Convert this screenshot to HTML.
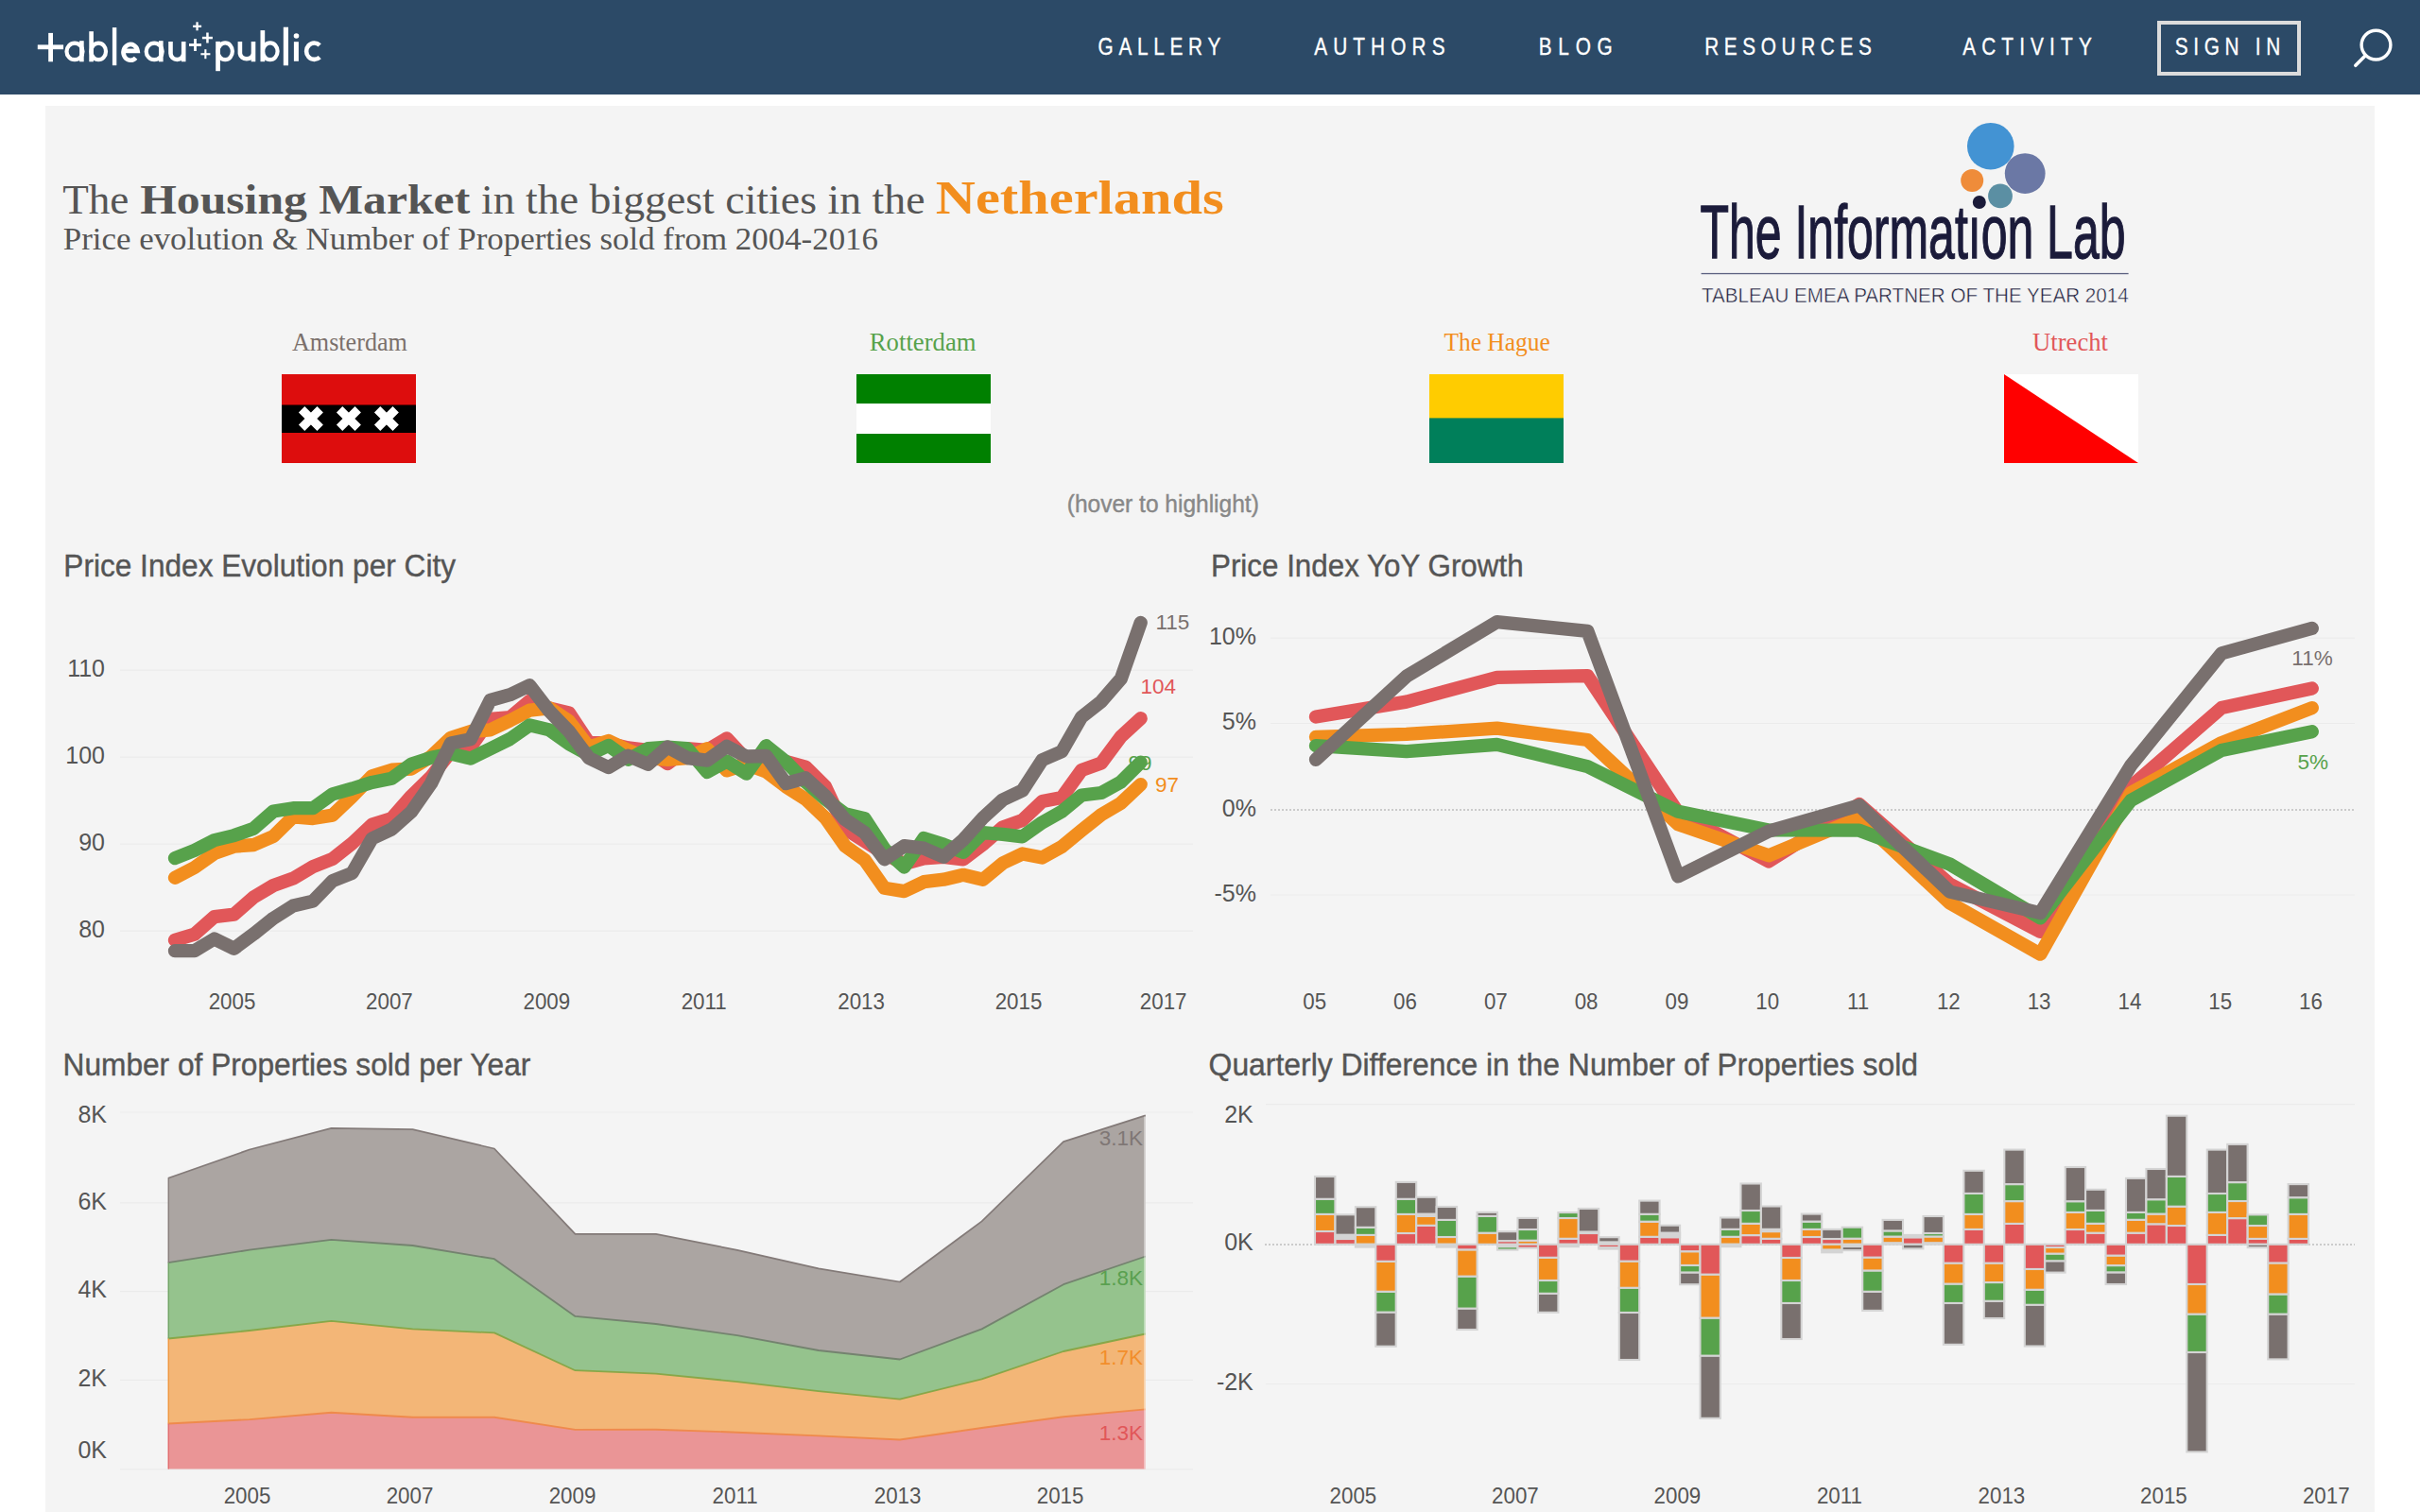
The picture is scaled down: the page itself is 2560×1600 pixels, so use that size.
<!DOCTYPE html>
<html><head><meta charset="utf-8"><title>Housing Market NL</title>
<style>
html,body{margin:0;padding:0;}
body{width:2560px;height:1600px;overflow:hidden;position:relative;background:#ffffff;font-family:"Liberation Sans",sans-serif;}
#nav{position:absolute;left:0;top:0;width:2560px;height:100px;background:#2c4a67;}
#panel{position:absolute;left:48px;top:112px;width:2464px;height:1488px;background:#f4f4f4;}
svg{position:absolute;left:0;top:0;}
</style></head><body>
<div id="nav"></div>
<div id="panel"></div>
<svg width="2560" height="1600" viewBox="0 0 2560 1600">
<g fill="#fff"><rect x="39.8" y="47.4" width="27.3" height="4.8"/><rect x="51.2" y="34.9" width="4.8" height="30.4"/><ellipse cx="79" cy="54.4" rx="8.5" ry="8.8" fill="none" stroke="#fff" stroke-width="4.2"/><rect x="84.1" y="43.2" width="4.6" height="22.1"/><rect x="94.3" y="33.2" width="4.6" height="32.1"/><ellipse cx="104.2" cy="54.4" rx="7.8" ry="8.8" fill="none" stroke="#fff" stroke-width="4.2"/><rect x="118.9" y="29.1" width="4.4" height="40.1"/><path d="M130.4,53.9 H145.6 A7.6,8.4 0 1 0 143.6,61.2" fill="none" stroke="#fff" stroke-width="4.6"/><ellipse cx="163.2" cy="54.4" rx="8.5" ry="8.8" fill="none" stroke="#fff" stroke-width="4.2"/><rect x="168" y="43.2" width="4.6" height="22.1"/><path d="M180.5,43.9 V56.6 A6.85,6.4 0 0 0 194.2,56.6 M194.2,43.9 V65.3" fill="none" stroke="#fff" stroke-width="4.6"/><rect x="204.1" y="26.7" width="9" height="2.3"/><rect x="207.4" y="23.3" width="2.3" height="9"/><rect x="200" y="46.1" width="13" height="2.8"/><rect x="205.1" y="41" width="2.8" height="13"/><rect x="213.9" y="38.8" width="11" height="2.5"/><rect x="218.2" y="34.5" width="2.5" height="11"/><rect x="212.4" y="56.2" width="10" height="2.1"/><rect x="216.3" y="52.2" width="2.1" height="10"/><rect x="228.2" y="43.9" width="4.7" height="31.3"/><ellipse cx="238.2" cy="54.3" rx="7.7" ry="8.9" fill="none" stroke="#fff" stroke-width="4.2"/><path d="M253.9,43.9 V56.6 A7.1,6.4 0 0 0 268.0,56.6 M268.0,43.9 V65.2" fill="none" stroke="#fff" stroke-width="4.6"/><rect x="275.5" y="32.1" width="4.7" height="33.1"/><ellipse cx="285.8" cy="54.3" rx="7.8" ry="8.9" fill="none" stroke="#fff" stroke-width="4.2"/><rect x="299.8" y="28.7" width="5.2" height="40.6"/><rect x="310.9" y="44.2" width="5.0" height="20.6"/><circle cx="313.5" cy="38" r="2.8"/><path d="M338.2,47.8 A8.4,8.7 0 1 0 338.2,60.6" fill="none" stroke="#fff" stroke-width="4.6"/></g>
<text transform="translate(1161.6,58.1) scale(0.8,1)" x="0" y="0" font-family="Liberation Sans" font-size="26" fill="#fff" stroke="#fff" stroke-width="0.35" textLength="162.1" lengthAdjust="spacing">GALLERY</text>
<text transform="translate(1390.2,58.1) scale(0.8,1)" x="0" y="0" font-family="Liberation Sans" font-size="26" fill="#fff" stroke="#fff" stroke-width="0.35" textLength="172.9" lengthAdjust="spacing">AUTHORS</text>
<text transform="translate(1627.7,58.1) scale(0.8,1)" x="0" y="0" font-family="Liberation Sans" font-size="26" fill="#fff" stroke="#fff" stroke-width="0.35" textLength="97.6" lengthAdjust="spacing">BLOG</text>
<text transform="translate(1803.2,58.1) scale(0.8,1)" x="0" y="0" font-family="Liberation Sans" font-size="26" fill="#fff" stroke="#fff" stroke-width="0.35" textLength="220.7" lengthAdjust="spacing">RESOURCES</text>
<text transform="translate(2076.2,58.1) scale(0.8,1)" x="0" y="0" font-family="Liberation Sans" font-size="26" fill="#fff" stroke="#fff" stroke-width="0.35" textLength="170.7" lengthAdjust="spacing">ACTIVITY</text>
<text transform="translate(2300.7,58.1) scale(0.8,1)" x="0" y="0" font-family="Liberation Sans" font-size="26" fill="#fff" stroke="#fff" stroke-width="0.35" textLength="139.5" lengthAdjust="spacing">SIGN IN</text>
<rect x="2284" y="24" width="148" height="54" fill="none" stroke="#dcdcdc" stroke-width="4"/>
<circle cx="2513.5" cy="47.6" r="15.4" fill="none" stroke="#fff" stroke-width="3.4"/>
<line x1="2491.8" y1="69.3" x2="2502.3" y2="58.8" stroke="#fff" stroke-width="3.6" stroke-linecap="round"/>
<text x="66.2" y="225.8" font-family="Liberation Serif" font-size="45" fill="#555555" text-anchor="start" font-weight="normal" textLength="70.2" lengthAdjust="spacingAndGlyphs">The</text>
<text x="148.2" y="225.8" font-family="Liberation Serif" font-size="45" fill="#555555" text-anchor="start" font-weight="bold" textLength="349" lengthAdjust="spacingAndGlyphs">Housing Market</text>
<text x="509" y="225.8" font-family="Liberation Serif" font-size="45" fill="#555555" text-anchor="start" font-weight="normal" textLength="469.5" lengthAdjust="spacingAndGlyphs">in the biggest cities in the</text>
<text x="989.8" y="225.9" font-family="Liberation Serif" font-size="51" fill="#f28e1e" text-anchor="start" font-weight="bold" textLength="304.9" lengthAdjust="spacingAndGlyphs">Netherlands</text>
<text x="66.8" y="264" font-family="Liberation Serif" font-size="34" fill="#555555" text-anchor="start" font-weight="normal" textLength="862.2" lengthAdjust="spacingAndGlyphs">Price evolution &amp; Number of Properties sold from 2004-2016</text>
<circle cx="2105.8" cy="154.7" r="24.8" fill="#4393d3"/>
<circle cx="2142.2" cy="183.6" r="21.4" fill="#6b78a5"/>
<circle cx="2086.2" cy="190.9" r="12" fill="#ef8c3a"/>
<circle cx="2116" cy="207.4" r="12.9" fill="#5b8fa3"/>
<circle cx="2093.8" cy="214" r="7" fill="#1b1b3a"/>
<text x="1798.5" y="273" font-family="Liberation Sans" font-size="80" fill="#1b1b3a" text-anchor="start" font-weight="normal" textLength="450" lengthAdjust="spacingAndGlyphs" stroke="#1b1b3a" stroke-width="1.3">The Informat<tspan fill-opacity="1">ı</tspan>on Lab</text>
<rect x="1799.6" y="288.9" width="452" height="1.3" fill="#5b6080"/>
<text x="1800" y="320" font-family="Liberation Sans" font-size="22.3" fill="#1d1d3c" text-anchor="start" font-weight="normal" textLength="451.7" lengthAdjust="spacingAndGlyphs" stroke="#f4f4f4" stroke-width="0.45">TABLEAU EMEA PARTNER OF THE YEAR 2014</text>
<text x="309" y="371" font-family="Liberation Serif" font-size="27" fill="#7b706b" text-anchor="start" font-weight="normal" textLength="121.9" lengthAdjust="spacingAndGlyphs">Amsterdam</text>
<text x="919.8" y="371" font-family="Liberation Serif" font-size="27" fill="#57a24b" text-anchor="start" font-weight="normal" textLength="112.8" lengthAdjust="spacingAndGlyphs">Rotterdam</text>
<text x="1527.4" y="371" font-family="Liberation Serif" font-size="27" fill="#f28e1e" text-anchor="start" font-weight="normal" textLength="112.4" lengthAdjust="spacingAndGlyphs">The Hague</text>
<text x="2150" y="371" font-family="Liberation Serif" font-size="27" fill="#e15759" text-anchor="start" font-weight="normal" textLength="80" lengthAdjust="spacingAndGlyphs">Utrecht</text>
<defs><filter id="fb" x="-10%" y="-10%" width="120%" height="120%"><feGaussianBlur stdDeviation="0.75"/></filter><clipPath id="c1"><rect x="298" y="396" width="142" height="94"/></clipPath><clipPath id="c2"><rect x="906" y="396" width="142" height="94"/></clipPath><clipPath id="c3"><rect x="1512" y="396" width="142" height="94"/></clipPath><clipPath id="c4"><rect x="2120" y="396" width="142" height="94"/></clipPath></defs>
<g clip-path="url(#c1)"><g filter="url(#fb)"><rect x="290" y="388" width="158" height="110" fill="#dd0c07"/><rect x="290" y="428.5" width="158" height="29.5" fill="#000"/><g transform="translate(328.9,443)"><path d="M-9.8,-9.8 L9.8,9.8 M9.8,-9.8 L-9.8,9.8" stroke="#fff" stroke-width="9"/></g><g transform="translate(368.9,443)"><path d="M-9.8,-9.8 L9.8,9.8 M9.8,-9.8 L-9.8,9.8" stroke="#fff" stroke-width="9"/></g><g transform="translate(408.9,443)"><path d="M-9.8,-9.8 L9.8,9.8 M9.8,-9.8 L-9.8,9.8" stroke="#fff" stroke-width="9"/></g></g></g>
<g clip-path="url(#c2)"><g filter="url(#fb)"><rect x="898" y="388" width="158" height="110" fill="#008000"/><rect x="898" y="427" width="158" height="32" fill="#fff"/></g></g>
<g clip-path="url(#c3)"><g filter="url(#fb)"><rect x="1504" y="388" width="158" height="110" fill="#007f5a"/><rect x="1504" y="388" width="158" height="54.4" fill="#ffcc00"/></g></g>
<g clip-path="url(#c4)"><g filter="url(#fb)"><rect x="2112" y="388" width="158" height="110" fill="#ffffff"/><path d="M2120,396 L2262,490 L2270,500 L2110,500 L2110,389.4 Z" fill="#ff0000"/></g></g>
<text x="1128.8" y="542.1" font-family="Liberation Sans" font-size="25" fill="#888888" text-anchor="start" font-weight="normal" textLength="203" lengthAdjust="spacingAndGlyphs" stroke="#888888" stroke-width="0.4">(hover to highlight)</text>
<text x="67.3" y="609.7" font-family="Liberation Sans" font-size="33" fill="#555555" text-anchor="start" font-weight="normal" textLength="414.7" lengthAdjust="spacingAndGlyphs" stroke="#555555" stroke-width="0.4">Price Index Evolution per City</text>
<text x="1281" y="610.3" font-family="Liberation Sans" font-size="33" fill="#555555" text-anchor="start" font-weight="normal" textLength="330.6" lengthAdjust="spacingAndGlyphs" stroke="#555555" stroke-width="0.4">Price Index YoY Growth</text>
<text x="66.5" y="1138.2" font-family="Liberation Sans" font-size="33" fill="#555555" text-anchor="start" font-weight="normal" textLength="494.8" lengthAdjust="spacingAndGlyphs" stroke="#555555" stroke-width="0.4">Number of Properties sold per Year</text>
<text x="1278.6" y="1138.2" font-family="Liberation Sans" font-size="33" fill="#555555" text-anchor="start" font-weight="normal" textLength="750.5" lengthAdjust="spacingAndGlyphs" stroke="#555555" stroke-width="0.4">Quarterly Difference in the Number of Properties sold</text>
<line x1="127" y1="709.2" x2="1262" y2="709.2" stroke="#ebebeb" stroke-width="1.2"/>
<text x="111" y="715.7" font-family="Liberation Sans" font-size="25" fill="#555555" text-anchor="end" font-weight="normal">110</text>
<line x1="127" y1="801.2" x2="1262" y2="801.2" stroke="#ebebeb" stroke-width="1.2"/>
<text x="111" y="807.7" font-family="Liberation Sans" font-size="25" fill="#555555" text-anchor="end" font-weight="normal">100</text>
<line x1="127" y1="893.2" x2="1262" y2="893.2" stroke="#ebebeb" stroke-width="1.2"/>
<text x="111" y="899.7" font-family="Liberation Sans" font-size="25" fill="#555555" text-anchor="end" font-weight="normal">90</text>
<line x1="127" y1="985.2" x2="1262" y2="985.2" stroke="#ebebeb" stroke-width="1.2"/>
<text x="111" y="991.7" font-family="Liberation Sans" font-size="25" fill="#555555" text-anchor="end" font-weight="normal">80</text>
<text transform="translate(245.5,1068) scale(0.955,1)" x="0" y="0" font-family="Liberation Sans" font-size="23.4" fill="#555555" text-anchor="middle">2005</text>
<text transform="translate(411.9,1068) scale(0.955,1)" x="0" y="0" font-family="Liberation Sans" font-size="23.4" fill="#555555" text-anchor="middle">2007</text>
<text transform="translate(578.3,1068) scale(0.955,1)" x="0" y="0" font-family="Liberation Sans" font-size="23.4" fill="#555555" text-anchor="middle">2009</text>
<text transform="translate(744.7,1068) scale(0.955,1)" x="0" y="0" font-family="Liberation Sans" font-size="23.4" fill="#555555" text-anchor="middle">2011</text>
<text transform="translate(911.1,1068) scale(0.955,1)" x="0" y="0" font-family="Liberation Sans" font-size="23.4" fill="#555555" text-anchor="middle">2013</text>
<text transform="translate(1077.5,1068) scale(0.955,1)" x="0" y="0" font-family="Liberation Sans" font-size="23.4" fill="#555555" text-anchor="middle">2015</text>
<text transform="translate(1255.5,1068) scale(0.955,1)" x="0" y="0" font-family="Liberation Sans" font-size="23.4" fill="#555555" text-anchor="end">2017</text>
<polyline points="185,994.9 205.8,988.6 226.7,970.1 247.6,967.6 268.4,949.4 289.2,937 310.1,929.6 331,917.2 351.8,908.9 372.6,892.4 393.5,872.6 414.4,866 435.2,842.3 456.1,822 476.9,795.5 497.8,790.6 518.6,760.8 539.5,759.2 560.3,741.8 581.2,749.5 602,754.5 622.9,786 643.7,786.5 664.5,791.4 685.4,793.9 706.2,808 727.1,792.2 748,793.9 768.8,781.5 789.7,803.8 810.5,802 831.4,806 852.2,811.7 873.1,832.4 893.9,877 914.8,890.2 935.6,903.5 956.5,914.2 977.3,908.4 998.2,906.8 1019,909.3 1039.8,893.6 1060.7,875.4 1081.6,867.9 1102.4,848.1 1123.2,844 1144.1,815 1165,807.6 1185.8,779.5 1206.7,760.2" fill="none" stroke="#e15759" stroke-width="14.3" stroke-linejoin="round" stroke-linecap="round"/>
<polyline points="185,928.8 205.8,918 226.7,903.1 247.6,895.7 268.4,894 289.2,885 310.1,864.3 331,866 351.8,862.6 372.6,842.8 393.5,821.3 414.4,814.7 435.2,813.5 456.1,800.5 476.9,780.7 497.8,774 518.6,772.4 539.5,762.5 560.3,751.7 581.2,749.3 602,763.3 622.9,790.6 643.7,784 664.5,793.9 685.4,802.1 706.2,803.8 727.1,802.1 748,792.2 768.8,815.4 789.7,808.8 810.5,816.5 831.4,832.4 852.2,845.6 873.1,865.5 893.9,895.2 914.8,910.1 935.6,939.8 956.5,943.1 977.3,933.2 998.2,930.7 1019,925.8 1039.8,930.7 1060.7,913.4 1081.6,903.5 1102.4,907.6 1123.2,896 1144.1,878.7 1165,862.1 1185.8,849.8 1206.7,830.1" fill="none" stroke="#f28e1e" stroke-width="14.3" stroke-linejoin="round" stroke-linecap="round"/>
<text x="1222" y="837.7" font-family="Liberation Sans" font-size="22.5" fill="#f28e1e" text-anchor="start" font-weight="normal">97</text>
<text x="1193.5" y="814.5" font-family="Liberation Sans" font-size="22.5" fill="#57a24b" text-anchor="start" font-weight="normal">99</text>
<polyline points="185,908.1 205.8,899.8 226.7,889.1 247.6,884.1 268.4,876.7 289.2,858.5 310.1,855.2 331,855.2 351.8,840.3 372.6,834.5 393.5,827.9 414.4,823.8 435.2,808.5 456.1,801.8 476.9,797.5 497.8,802.6 518.6,792.3 539.5,782 560.3,767.4 581.2,772.4 602,787.3 622.9,798.8 643.7,788.9 664.5,803.8 685.4,792.2 706.2,790.6 727.1,792.2 748,817 768.8,805.5 789.7,818.7 810.5,789.2 831.4,806 852.2,827.4 873.1,845.6 893.9,861.3 914.8,866.3 935.6,898.5 956.5,917.5 977.3,887 998.2,893.6 1019,901.8 1039.8,881.2 1060.7,882.8 1081.6,885.3 1102.4,870.4 1123.2,858.8 1144.1,841.5 1165,839 1185.8,827.4 1206.7,806.7" fill="none" stroke="#57a24b" stroke-width="14.3" stroke-linejoin="round" stroke-linecap="round"/>
<polyline points="185,1006.2 205.8,1006.2 226.7,993.5 247.6,1003.7 268.4,988.3 289.2,971.7 310.1,958.5 331,953.6 351.8,932.1 372.6,923.8 393.5,887.4 414.4,877.5 435.2,859 456.1,829 476.9,786.4 497.8,782.3 518.6,741 539.5,735.2 560.3,725.3 581.2,752.6 602,774 622.9,802.1 643.7,812.1 664.5,799.7 685.4,808.8 706.2,790.6 727.1,802.1 748,804.6 768.8,789.8 789.7,800.5 810.5,800 831.4,829 852.2,823.3 873.1,842.3 893.9,867.1 914.8,881.2 935.6,909.3 956.5,895.2 977.3,897.7 998.2,906.8 1019,888.6 1039.8,865.5 1060.7,846.4 1081.6,836.5 1102.4,804.3 1123.2,795.2 1144.1,758.8 1165,742.3 1185.8,718.3 1206.7,658.9" fill="none" stroke="#79706e" stroke-width="14.3" stroke-linejoin="round" stroke-linecap="round"/>
<text x="1222.5" y="665.9" font-family="Liberation Sans" font-size="22.5" fill="#79706e" text-anchor="start" font-weight="normal">115</text>
<text x="1206.5" y="733.7" font-family="Liberation Sans" font-size="22.5" fill="#e15759" text-anchor="start" font-weight="normal">104</text>
<line x1="1344" y1="675.2" x2="2491" y2="675.2" stroke="#ebebeb" stroke-width="1.2"/>
<line x1="1344" y1="765.5" x2="2491" y2="765.5" stroke="#ebebeb" stroke-width="1.2"/>
<line x1="1344" y1="947" x2="2491" y2="947" stroke="#ebebeb" stroke-width="1.2"/>
<text x="1329" y="681.7" font-family="Liberation Sans" font-size="25" fill="#555555" text-anchor="end" font-weight="normal">10%</text>
<text x="1329" y="772" font-family="Liberation Sans" font-size="25" fill="#555555" text-anchor="end" font-weight="normal">5%</text>
<text x="1329" y="863.5" font-family="Liberation Sans" font-size="25" fill="#555555" text-anchor="end" font-weight="normal">0%</text>
<text x="1329" y="953.5" font-family="Liberation Sans" font-size="25" fill="#555555" text-anchor="end" font-weight="normal">-5%</text>
<line x1="1344" y1="857" x2="2491" y2="857" stroke="#bdbdbd" stroke-width="1.7" stroke-dasharray="2,2"/>
<text transform="translate(1390.7,1067.8) scale(0.955,1)" x="0" y="0" font-family="Liberation Sans" font-size="23.4" fill="#555555" text-anchor="middle">05</text>
<text transform="translate(1486.5,1067.8) scale(0.955,1)" x="0" y="0" font-family="Liberation Sans" font-size="23.4" fill="#555555" text-anchor="middle">06</text>
<text transform="translate(1582.3,1067.8) scale(0.955,1)" x="0" y="0" font-family="Liberation Sans" font-size="23.4" fill="#555555" text-anchor="middle">07</text>
<text transform="translate(1678.1,1067.8) scale(0.955,1)" x="0" y="0" font-family="Liberation Sans" font-size="23.4" fill="#555555" text-anchor="middle">08</text>
<text transform="translate(1773.9,1067.8) scale(0.955,1)" x="0" y="0" font-family="Liberation Sans" font-size="23.4" fill="#555555" text-anchor="middle">09</text>
<text transform="translate(1869.7,1067.8) scale(0.955,1)" x="0" y="0" font-family="Liberation Sans" font-size="23.4" fill="#555555" text-anchor="middle">10</text>
<text transform="translate(1965.5,1067.8) scale(0.955,1)" x="0" y="0" font-family="Liberation Sans" font-size="23.4" fill="#555555" text-anchor="middle">11</text>
<text transform="translate(2061.3,1067.8) scale(0.955,1)" x="0" y="0" font-family="Liberation Sans" font-size="23.4" fill="#555555" text-anchor="middle">12</text>
<text transform="translate(2157.1,1067.8) scale(0.955,1)" x="0" y="0" font-family="Liberation Sans" font-size="23.4" fill="#555555" text-anchor="middle">13</text>
<text transform="translate(2252.9,1067.8) scale(0.955,1)" x="0" y="0" font-family="Liberation Sans" font-size="23.4" fill="#555555" text-anchor="middle">14</text>
<text transform="translate(2348.7,1067.8) scale(0.955,1)" x="0" y="0" font-family="Liberation Sans" font-size="23.4" fill="#555555" text-anchor="middle">15</text>
<text transform="translate(2444.5,1067.8) scale(0.955,1)" x="0" y="0" font-family="Liberation Sans" font-size="23.4" fill="#555555" text-anchor="middle">16</text>
<polyline points="1392,758.5 1487.8,742.6 1583.6,716.9 1679.4,715.2 1775.2,860 1871,911.5 1966.8,851 2062.6,935.6 2158.4,985.9 2254.2,832.4 2350,749.1 2445.8,728.4" fill="none" stroke="#e15759" stroke-width="14.3" stroke-linejoin="round" stroke-linecap="round"/>
<polyline points="1392,779.8 1487.8,776.9 1583.6,770.7 1679.4,783 1775.2,872.3 1871,905.3 1966.8,865.5 2062.6,955.5 2158.4,1009.7 2254.2,839 2350,786.1 2445.8,749.1" fill="none" stroke="#f28e1e" stroke-width="14.3" stroke-linejoin="round" stroke-linecap="round"/>
<polyline points="1392,789.1 1487.8,795.2 1583.6,787.9 1679.4,811.1 1775.2,858.8 1871,878.4 1966.8,878.7 2062.6,914.5 2158.4,971.4 2254.2,847 2350,794.1 2445.8,774.2" fill="none" stroke="#57a24b" stroke-width="14.3" stroke-linejoin="round" stroke-linecap="round"/>
<polyline points="1392,803.8 1487.8,715.7 1583.6,658.1 1679.4,667.9 1775.2,927.4 1871,879.7 1966.8,852.3 2062.6,943.6 2158.4,966.1 2254.2,810 2350,691.4 2445.8,664.9" fill="none" stroke="#79706e" stroke-width="14.3" stroke-linejoin="round" stroke-linecap="round"/>
<text x="2424.3" y="703.9" font-family="Liberation Sans" font-size="22.5" fill="#79706e" text-anchor="start" font-weight="normal">11%</text>
<text x="2430.6" y="814.1" font-family="Liberation Sans" font-size="22.5" fill="#57a24b" text-anchor="start" font-weight="normal">5%</text>
<line x1="127" y1="1177" x2="1262" y2="1177" stroke="#ebebeb" stroke-width="1.2"/>
<line x1="127" y1="1272.8" x2="1262" y2="1272.8" stroke="#ebebeb" stroke-width="1.2"/>
<line x1="127" y1="1366.6" x2="1262" y2="1366.6" stroke="#ebebeb" stroke-width="1.2"/>
<line x1="127" y1="1460.3" x2="1262" y2="1460.3" stroke="#ebebeb" stroke-width="1.2"/>
<line x1="127" y1="1554.8" x2="1262" y2="1554.8" stroke="#ebebeb" stroke-width="1.2"/>
<text x="113" y="1187.9" font-family="Liberation Sans" font-size="25" fill="#555555" text-anchor="end" font-weight="normal">8K</text>
<text x="113" y="1279.6" font-family="Liberation Sans" font-size="25" fill="#555555" text-anchor="end" font-weight="normal">6K</text>
<text x="113" y="1373.4" font-family="Liberation Sans" font-size="25" fill="#555555" text-anchor="end" font-weight="normal">4K</text>
<text x="113" y="1467.1" font-family="Liberation Sans" font-size="25" fill="#555555" text-anchor="end" font-weight="normal">2K</text>
<text x="113" y="1543.4" font-family="Liberation Sans" font-size="25" fill="#555555" text-anchor="end" font-weight="normal">0K</text>
<text transform="translate(261.5,1591) scale(0.955,1)" x="0" y="0" font-family="Liberation Sans" font-size="23.4" fill="#555555" text-anchor="middle">2005</text>
<text transform="translate(433.5,1591) scale(0.955,1)" x="0" y="0" font-family="Liberation Sans" font-size="23.4" fill="#555555" text-anchor="middle">2007</text>
<text transform="translate(605.5,1591) scale(0.955,1)" x="0" y="0" font-family="Liberation Sans" font-size="23.4" fill="#555555" text-anchor="middle">2009</text>
<text transform="translate(777.6,1591) scale(0.955,1)" x="0" y="0" font-family="Liberation Sans" font-size="23.4" fill="#555555" text-anchor="middle">2011</text>
<text transform="translate(949.6,1591) scale(0.955,1)" x="0" y="0" font-family="Liberation Sans" font-size="23.4" fill="#555555" text-anchor="middle">2013</text>
<text transform="translate(1121.6,1591) scale(0.955,1)" x="0" y="0" font-family="Liberation Sans" font-size="23.4" fill="#555555" text-anchor="middle">2015</text>
<polygon points="177.8,1506.5 263.9,1502.1 350.5,1494.7 436.5,1499.8 522.9,1499.8 608.5,1512.9 693.9,1512.7 779.9,1515.7 865.9,1519.4 951.9,1523.5 1038.6,1511 1125,1499.2 1211.8,1491.4 1211.8,1554.5 1125,1554.5 1038.6,1554.5 951.9,1554.5 865.9,1554.5 779.9,1554.5 693.9,1554.5 608.5,1554.5 522.9,1554.5 436.5,1554.5 350.5,1554.5 263.9,1554.5 177.8,1554.5" fill="#ea9596"/>
<polygon points="177.8,1416.5 263.9,1408 350.5,1397.9 436.5,1406.4 522.9,1410.4 608.5,1450.2 693.9,1453.6 779.9,1462.1 865.9,1472.2 951.9,1480.6 1038.6,1459.4 1125,1430 1211.8,1411.5 1211.8,1491.4 1125,1499.2 1038.6,1511 951.9,1523.5 865.9,1519.4 779.9,1515.7 693.9,1512.7 608.5,1512.9 522.9,1499.8 436.5,1499.8 350.5,1494.7 263.9,1502.1 177.8,1506.5" fill="#f3b677"/>
<polygon points="177.8,1336.2 263.9,1322.7 350.5,1311.9 436.5,1318 522.9,1332.2 608.5,1392.9 693.9,1401 779.9,1413.2 865.9,1429 951.9,1438.5 1038.6,1406.4 1125,1359.2 1211.8,1329.5 1211.8,1411.5 1125,1430 1038.6,1459.4 951.9,1480.6 865.9,1472.2 779.9,1462.1 693.9,1453.6 608.5,1450.2 522.9,1410.4 436.5,1406.4 350.5,1397.9 263.9,1408 177.8,1416.5" fill="#95c38d"/>
<polygon points="177.8,1246.8 263.9,1216.5 350.5,1193.9 436.5,1195.2 522.9,1215.5 608.5,1305.9 693.9,1305.9 779.9,1322.8 865.9,1342.3 951.9,1356.5 1038.6,1292.4 1125,1208.1 1211.8,1180.4 1211.8,1329.5 1125,1359.2 1038.6,1406.4 951.9,1438.5 865.9,1429 779.9,1413.2 693.9,1401 608.5,1392.9 522.9,1332.2 436.5,1318 350.5,1311.9 263.9,1322.7 177.8,1336.2" fill="#aba5a2"/>
<polyline points="177.8,1506.5 263.9,1502.1 350.5,1494.7 436.5,1499.8 522.9,1499.8 608.5,1512.9 693.9,1512.7 779.9,1515.7 865.9,1519.4 951.9,1523.5 1038.6,1511 1125,1499.2 1211.8,1491.4" fill="none" stroke="#ef8a4c" stroke-width="1.9" stroke-linejoin="round"/>
<polyline points="177.8,1416.5 263.9,1408 350.5,1397.9 436.5,1406.4 522.9,1410.4 608.5,1450.2 693.9,1453.6 779.9,1462.1 865.9,1472.2 951.9,1480.6 1038.6,1459.4 1125,1430 1211.8,1411.5" fill="none" stroke="#88a748" stroke-width="1.8" stroke-linejoin="round"/>
<polyline points="177.8,1336.2 263.9,1322.7 350.5,1311.9 436.5,1318 522.9,1332.2 608.5,1392.9 693.9,1401 779.9,1413.2 865.9,1429 951.9,1438.5 1038.6,1406.4 1125,1359.2 1211.8,1329.5" fill="none" stroke="#74836f" stroke-width="1.8" stroke-linejoin="round"/>
<polyline points="177.8,1246.8 263.9,1216.5 350.5,1193.9 436.5,1195.2 522.9,1215.5 608.5,1305.9 693.9,1305.9 779.9,1322.8 865.9,1342.3 951.9,1356.5 1038.6,1292.4 1125,1208.1 1211.8,1180.4" fill="none" stroke="#837a78" stroke-width="1.7" stroke-linejoin="round"/>
<line x1="178.3" y1="1246.8" x2="178.3" y2="1336.2" stroke="#857c7a" stroke-width="1.3"/>
<line x1="178.3" y1="1336.2" x2="178.3" y2="1416.5" stroke="#6fa364" stroke-width="1.3"/>
<line x1="178.3" y1="1416.5" x2="178.3" y2="1506.5" stroke="#f0963c" stroke-width="1.3"/>
<line x1="178.3" y1="1506.5" x2="178.3" y2="1554.5" stroke="#e26a6c" stroke-width="1.3"/>
<line x1="1211" y1="1181.4" x2="1211" y2="1554.5" stroke="#ffffff" stroke-opacity="0.5" stroke-width="1.6"/>
<text x="1209" y="1212.1" font-family="Liberation Sans" font-size="22.5" fill="#7f7775" text-anchor="end" font-weight="normal">3.1K</text>
<text x="1209" y="1359.9" font-family="Liberation Sans" font-size="22.5" fill="#5aa050" text-anchor="end" font-weight="normal">1.8K</text>
<text x="1209" y="1443.5" font-family="Liberation Sans" font-size="22.5" fill="#f28e2b" text-anchor="end" font-weight="normal">1.7K</text>
<text x="1209" y="1523.5" font-family="Liberation Sans" font-size="22.5" fill="#e15759" text-anchor="end" font-weight="normal">1.3K</text>
<line x1="1339" y1="1168.6" x2="2491" y2="1168.6" stroke="#ebebeb" stroke-width="1.2"/>
<line x1="1339" y1="1464.5" x2="2491" y2="1464.5" stroke="#ebebeb" stroke-width="1.2"/>
<line x1="1338" y1="1317" x2="2491" y2="1317" stroke="#bdbdbd" stroke-width="1.7" stroke-dasharray="2,2"/>
<text x="1325.8" y="1187.9" font-family="Liberation Sans" font-size="25" fill="#555555" text-anchor="end" font-weight="normal">2K</text>
<text x="1325.8" y="1322.9" font-family="Liberation Sans" font-size="25" fill="#555555" text-anchor="end" font-weight="normal">0K</text>
<text x="1325.8" y="1471.3" font-family="Liberation Sans" font-size="25" fill="#555555" text-anchor="end" font-weight="normal">-2K</text>
<text transform="translate(1431.4,1591) scale(0.955,1)" x="0" y="0" font-family="Liberation Sans" font-size="23.4" fill="#555555" text-anchor="middle">2005</text>
<text transform="translate(1602.9,1591) scale(0.955,1)" x="0" y="0" font-family="Liberation Sans" font-size="23.4" fill="#555555" text-anchor="middle">2007</text>
<text transform="translate(1774.4,1591) scale(0.955,1)" x="0" y="0" font-family="Liberation Sans" font-size="23.4" fill="#555555" text-anchor="middle">2009</text>
<text transform="translate(1945.9,1591) scale(0.955,1)" x="0" y="0" font-family="Liberation Sans" font-size="23.4" fill="#555555" text-anchor="middle">2011</text>
<text transform="translate(2117.4,1591) scale(0.955,1)" x="0" y="0" font-family="Liberation Sans" font-size="23.4" fill="#555555" text-anchor="middle">2013</text>
<text transform="translate(2288.9,1591) scale(0.955,1)" x="0" y="0" font-family="Liberation Sans" font-size="23.4" fill="#555555" text-anchor="middle">2015</text>
<text transform="translate(2485.6,1591) scale(0.955,1)" x="0" y="0" font-family="Liberation Sans" font-size="23.4" fill="#555555" text-anchor="end">2017</text>
<g stroke="#d4d4d4" stroke-width="2.1"><rect x="1391" y="1303" width="21.4" height="13.8" fill="#e15759"/><rect x="1391" y="1284.9" width="21.4" height="18.1" fill="#f28e1e"/><rect x="1391" y="1268.8" width="21.4" height="16.1" fill="#57a24b"/><rect x="1391" y="1245" width="21.4" height="23.8" fill="#79706e"/><rect x="1412.5" y="1311" width="21.4" height="5.8" fill="#e15759"/><rect x="1412.5" y="1308.8" width="21.4" height="2.2" fill="#d4d4d4"/><rect x="1412.5" y="1306.7" width="21.4" height="2.1" fill="#d4d4d4"/><rect x="1412.5" y="1285.3" width="21.4" height="21.4" fill="#79706e"/><rect x="1433.9" y="1306.9" width="21.4" height="9.9" fill="#f28e1e"/><rect x="1433.9" y="1298.8" width="21.4" height="8.1" fill="#57a24b"/><rect x="1433.9" y="1277.2" width="21.4" height="21.6" fill="#79706e"/><rect x="1433.9" y="1316.8" width="21.4" height="2.8" fill="#d4d4d4"/><rect x="1455.3" y="1316.8" width="21.4" height="18.1" fill="#e15759"/><rect x="1455.3" y="1334.9" width="21.4" height="32" fill="#f28e1e"/><rect x="1455.3" y="1366.9" width="21.4" height="21.9" fill="#57a24b"/><rect x="1455.3" y="1388.8" width="21.4" height="35.9" fill="#79706e"/><rect x="1476.8" y="1305" width="21.4" height="11.8" fill="#e15759"/><rect x="1476.8" y="1284.9" width="21.4" height="20.1" fill="#f28e1e"/><rect x="1476.8" y="1268.8" width="21.4" height="16.1" fill="#57a24b"/><rect x="1476.8" y="1250.9" width="21.4" height="17.9" fill="#79706e"/><rect x="1498.2" y="1296.8" width="21.4" height="20" fill="#e15759"/><rect x="1498.2" y="1286.9" width="21.4" height="9.9" fill="#f28e1e"/><rect x="1498.2" y="1284.6" width="21.4" height="2.3" fill="#d4d4d4"/><rect x="1498.2" y="1266.8" width="21.4" height="17.8" fill="#79706e"/><rect x="1519.7" y="1309" width="21.4" height="7.8" fill="#f28e1e"/><rect x="1519.7" y="1290.9" width="21.4" height="18.1" fill="#57a24b"/><rect x="1519.7" y="1277" width="21.4" height="13.9" fill="#79706e"/><rect x="1519.7" y="1316.8" width="21.4" height="2.8" fill="#d4d4d4"/><rect x="1541.2" y="1316.8" width="21.4" height="5.8" fill="#e15759"/><rect x="1541.2" y="1322.6" width="21.4" height="28.2" fill="#f28e1e"/><rect x="1541.2" y="1350.8" width="21.4" height="34" fill="#57a24b"/><rect x="1541.2" y="1384.8" width="21.4" height="22.2" fill="#79706e"/><rect x="1562.6" y="1304.7" width="21.4" height="12.1" fill="#f28e1e"/><rect x="1562.6" y="1286.9" width="21.4" height="17.8" fill="#57a24b"/><rect x="1562.6" y="1282.9" width="21.4" height="4" fill="#79706e"/><rect x="1584" y="1313.1" width="21.4" height="3.7" fill="#e15759"/><rect x="1584" y="1303.2" width="21.4" height="9.9" fill="#79706e"/><rect x="1584" y="1316.8" width="21.4" height="2.5" fill="#d4d4d4"/><rect x="1584" y="1319.3" width="21.4" height="3.3" fill="#57a24b"/><rect x="1605.5" y="1312.7" width="21.4" height="4.1" fill="#f28e1e"/><rect x="1605.5" y="1301" width="21.4" height="11.7" fill="#57a24b"/><rect x="1605.5" y="1288.9" width="21.4" height="12.1" fill="#79706e"/><rect x="1605.5" y="1316.8" width="21.4" height="3.8" fill="#e15759"/><rect x="1627" y="1316.8" width="21.4" height="14.1" fill="#e15759"/><rect x="1627" y="1330.9" width="21.4" height="24.1" fill="#f28e1e"/><rect x="1627" y="1355" width="21.4" height="13.9" fill="#57a24b"/><rect x="1627" y="1368.9" width="21.4" height="19.9" fill="#79706e"/><rect x="1648.4" y="1310.8" width="21.4" height="6" fill="#e15759"/><rect x="1648.4" y="1289" width="21.4" height="21.8" fill="#f28e1e"/><rect x="1648.4" y="1283.1" width="21.4" height="5.9" fill="#57a24b"/><rect x="1648.4" y="1316.8" width="21.4" height="2.4" fill="#d4d4d4"/><rect x="1669.8" y="1305" width="21.4" height="11.8" fill="#e15759"/><rect x="1669.8" y="1303.5" width="21.4" height="1.5" fill="#d4d4d4"/><rect x="1669.8" y="1279" width="21.4" height="24.5" fill="#79706e"/><rect x="1691.3" y="1314.4" width="21.4" height="2.4" fill="#d4d4d4"/><rect x="1691.3" y="1309.2" width="21.4" height="5.2" fill="#79706e"/><rect x="1691.3" y="1316.8" width="21.4" height="3.4" fill="#e15759"/><rect x="1691.3" y="1320.2" width="21.4" height="1.4" fill="#d4d4d4"/><rect x="1712.8" y="1316.8" width="21.4" height="18" fill="#e15759"/><rect x="1712.8" y="1334.8" width="21.4" height="28.1" fill="#f28e1e"/><rect x="1712.8" y="1362.9" width="21.4" height="26.1" fill="#57a24b"/><rect x="1712.8" y="1389" width="21.4" height="50" fill="#79706e"/><rect x="1734.2" y="1308.8" width="21.4" height="8" fill="#e15759"/><rect x="1734.2" y="1292.7" width="21.4" height="16.1" fill="#f28e1e"/><rect x="1734.2" y="1284.8" width="21.4" height="7.9" fill="#57a24b"/><rect x="1734.2" y="1270.6" width="21.4" height="14.2" fill="#79706e"/><rect x="1755.7" y="1309.2" width="21.4" height="7.6" fill="#e15759"/><rect x="1755.7" y="1306.9" width="21.4" height="2.3" fill="#d4d4d4"/><rect x="1755.7" y="1304.6" width="21.4" height="2.3" fill="#d4d4d4"/><rect x="1755.7" y="1296.7" width="21.4" height="7.9" fill="#79706e"/><rect x="1777.1" y="1316.8" width="21.4" height="7.6" fill="#e15759"/><rect x="1777.1" y="1324.4" width="21.4" height="14.6" fill="#f28e1e"/><rect x="1777.1" y="1339" width="21.4" height="7.7" fill="#57a24b"/><rect x="1777.1" y="1346.7" width="21.4" height="12.5" fill="#79706e"/><rect x="1798.5" y="1316.8" width="21.4" height="32" fill="#e15759"/><rect x="1798.5" y="1348.8" width="21.4" height="46" fill="#f28e1e"/><rect x="1798.5" y="1394.8" width="21.4" height="40" fill="#57a24b"/><rect x="1798.5" y="1434.8" width="21.4" height="66" fill="#79706e"/><rect x="1820" y="1308.8" width="21.4" height="8" fill="#f28e1e"/><rect x="1820" y="1300.8" width="21.4" height="8" fill="#57a24b"/><rect x="1820" y="1288.5" width="21.4" height="12.3" fill="#79706e"/><rect x="1820" y="1316.8" width="21.4" height="2.4" fill="#d4d4d4"/><rect x="1841.5" y="1307.1" width="21.4" height="9.7" fill="#e15759"/><rect x="1841.5" y="1294.8" width="21.4" height="12.3" fill="#f28e1e"/><rect x="1841.5" y="1281" width="21.4" height="13.8" fill="#57a24b"/><rect x="1841.5" y="1252.5" width="21.4" height="28.5" fill="#79706e"/><rect x="1862.9" y="1310.8" width="21.4" height="6" fill="#e15759"/><rect x="1862.9" y="1303.1" width="21.4" height="7.7" fill="#f28e1e"/><rect x="1862.9" y="1300.8" width="21.4" height="2.3" fill="#d4d4d4"/><rect x="1862.9" y="1276.5" width="21.4" height="24.3" fill="#79706e"/><rect x="1884.3" y="1316.8" width="21.4" height="14.2" fill="#e15759"/><rect x="1884.3" y="1331" width="21.4" height="24" fill="#f28e1e"/><rect x="1884.3" y="1355" width="21.4" height="24" fill="#57a24b"/><rect x="1884.3" y="1379" width="21.4" height="38" fill="#79706e"/><rect x="1905.8" y="1309" width="21.4" height="7.8" fill="#e15759"/><rect x="1905.8" y="1300.9" width="21.4" height="8.1" fill="#f28e1e"/><rect x="1905.8" y="1292.6" width="21.4" height="8.3" fill="#57a24b"/><rect x="1905.8" y="1284.6" width="21.4" height="8" fill="#79706e"/><rect x="1927.2" y="1311" width="21.4" height="5.8" fill="#e15759"/><rect x="1927.2" y="1300.9" width="21.4" height="10.1" fill="#79706e"/><rect x="1927.2" y="1316.8" width="21.4" height="5.9" fill="#f28e1e"/><rect x="1927.2" y="1322.7" width="21.4" height="2.6" fill="#d4d4d4"/><rect x="1948.7" y="1310.7" width="21.4" height="6.1" fill="#f28e1e"/><rect x="1948.7" y="1298.7" width="21.4" height="12" fill="#57a24b"/><rect x="1948.7" y="1316.8" width="21.4" height="2.3" fill="#d4d4d4"/><rect x="1948.7" y="1319.1" width="21.4" height="4" fill="#79706e"/><rect x="1970.2" y="1316.8" width="21.4" height="14" fill="#e15759"/><rect x="1970.2" y="1330.8" width="21.4" height="13.9" fill="#f28e1e"/><rect x="1970.2" y="1344.7" width="21.4" height="22.2" fill="#57a24b"/><rect x="1970.2" y="1366.9" width="21.4" height="20" fill="#79706e"/><rect x="1991.6" y="1315.2" width="21.4" height="1.6" fill="#d4d4d4"/><rect x="1991.6" y="1308.6" width="21.4" height="6.6" fill="#f28e1e"/><rect x="1991.6" y="1302.4" width="21.4" height="6.2" fill="#57a24b"/><rect x="1991.6" y="1290.9" width="21.4" height="11.5" fill="#79706e"/><rect x="2013" y="1309.3" width="21.4" height="7.5" fill="#e15759"/><rect x="2013" y="1306.9" width="21.4" height="2.4" fill="#d4d4d4"/><rect x="2013" y="1316.8" width="21.4" height="4.6" fill="#79706e"/><rect x="2034.5" y="1315.2" width="21.4" height="1.6" fill="#d4d4d4"/><rect x="2034.5" y="1308.5" width="21.4" height="6.7" fill="#f28e1e"/><rect x="2034.5" y="1305" width="21.4" height="3.5" fill="#57a24b"/><rect x="2034.5" y="1287" width="21.4" height="18" fill="#79706e"/><rect x="2055.9" y="1316.8" width="21.4" height="20" fill="#e15759"/><rect x="2055.9" y="1336.8" width="21.4" height="22" fill="#f28e1e"/><rect x="2055.9" y="1358.8" width="21.4" height="20.2" fill="#57a24b"/><rect x="2055.9" y="1379" width="21.4" height="43.8" fill="#79706e"/><rect x="2077.4" y="1300.9" width="21.4" height="15.9" fill="#e15759"/><rect x="2077.4" y="1284.9" width="21.4" height="16" fill="#f28e1e"/><rect x="2077.4" y="1262.9" width="21.4" height="22" fill="#57a24b"/><rect x="2077.4" y="1238.8" width="21.4" height="24.1" fill="#79706e"/><rect x="2098.8" y="1316.8" width="21.4" height="20" fill="#e15759"/><rect x="2098.8" y="1336.8" width="21.4" height="20.3" fill="#f28e1e"/><rect x="2098.8" y="1357.1" width="21.4" height="19.8" fill="#57a24b"/><rect x="2098.8" y="1376.9" width="21.4" height="18.1" fill="#79706e"/><rect x="2120.3" y="1294.9" width="21.4" height="21.9" fill="#e15759"/><rect x="2120.3" y="1271.1" width="21.4" height="23.8" fill="#f28e1e"/><rect x="2120.3" y="1253.1" width="21.4" height="18" fill="#57a24b"/><rect x="2120.3" y="1216.6" width="21.4" height="36.5" fill="#79706e"/><rect x="2141.8" y="1316.8" width="21.4" height="26.2" fill="#e15759"/><rect x="2141.8" y="1343" width="21.4" height="21.9" fill="#f28e1e"/><rect x="2141.8" y="1364.9" width="21.4" height="16" fill="#57a24b"/><rect x="2141.8" y="1380.9" width="21.4" height="43.6" fill="#79706e"/><rect x="2163.2" y="1316.8" width="21.4" height="3.3" fill="#e15759"/><rect x="2163.2" y="1320.1" width="21.4" height="6.7" fill="#f28e1e"/><rect x="2163.2" y="1326.8" width="21.4" height="7.7" fill="#57a24b"/><rect x="2163.2" y="1334.5" width="21.4" height="12.1" fill="#79706e"/><rect x="2184.7" y="1301" width="21.4" height="15.8" fill="#e15759"/><rect x="2184.7" y="1282.9" width="21.4" height="18.1" fill="#f28e1e"/><rect x="2184.7" y="1271.2" width="21.4" height="11.7" fill="#57a24b"/><rect x="2184.7" y="1235" width="21.4" height="36.2" fill="#79706e"/><rect x="2206.1" y="1304.7" width="21.4" height="12.1" fill="#e15759"/><rect x="2206.1" y="1294.8" width="21.4" height="9.9" fill="#f28e1e"/><rect x="2206.1" y="1280.9" width="21.4" height="13.9" fill="#57a24b"/><rect x="2206.1" y="1258.8" width="21.4" height="22.1" fill="#79706e"/><rect x="2227.6" y="1316.8" width="21.4" height="12" fill="#e15759"/><rect x="2227.6" y="1328.8" width="21.4" height="10.4" fill="#f28e1e"/><rect x="2227.6" y="1339.2" width="21.4" height="7.4" fill="#57a24b"/><rect x="2227.6" y="1346.6" width="21.4" height="12.4" fill="#79706e"/><rect x="2249" y="1304.7" width="21.4" height="12.1" fill="#e15759"/><rect x="2249" y="1290.8" width="21.4" height="13.9" fill="#f28e1e"/><rect x="2249" y="1282.9" width="21.4" height="7.9" fill="#57a24b"/><rect x="2249" y="1246.9" width="21.4" height="36" fill="#79706e"/><rect x="2270.4" y="1295.3" width="21.4" height="21.5" fill="#e15759"/><rect x="2270.4" y="1284.6" width="21.4" height="10.7" fill="#f28e1e"/><rect x="2270.4" y="1269.2" width="21.4" height="15.4" fill="#57a24b"/><rect x="2270.4" y="1237" width="21.4" height="32.2" fill="#79706e"/><rect x="2291.9" y="1297" width="21.4" height="19.8" fill="#e15759"/><rect x="2291.9" y="1276.7" width="21.4" height="20.3" fill="#f28e1e"/><rect x="2291.9" y="1244.9" width="21.4" height="31.8" fill="#57a24b"/><rect x="2291.9" y="1180.7" width="21.4" height="64.2" fill="#79706e"/><rect x="2313.3" y="1316.8" width="21.4" height="42.2" fill="#e15759"/><rect x="2313.3" y="1359" width="21.4" height="31.8" fill="#f28e1e"/><rect x="2313.3" y="1390.8" width="21.4" height="40.2" fill="#57a24b"/><rect x="2313.3" y="1431" width="21.4" height="105.4" fill="#79706e"/><rect x="2334.8" y="1306.9" width="21.4" height="9.9" fill="#e15759"/><rect x="2334.8" y="1282.9" width="21.4" height="24" fill="#f28e1e"/><rect x="2334.8" y="1263" width="21.4" height="19.9" fill="#57a24b"/><rect x="2334.8" y="1216.6" width="21.4" height="46.4" fill="#79706e"/><rect x="2356.2" y="1289.1" width="21.4" height="27.7" fill="#e15759"/><rect x="2356.2" y="1271" width="21.4" height="18.1" fill="#f28e1e"/><rect x="2356.2" y="1251.1" width="21.4" height="19.9" fill="#57a24b"/><rect x="2356.2" y="1210.9" width="21.4" height="40.2" fill="#79706e"/><rect x="2377.7" y="1310.9" width="21.4" height="5.9" fill="#e15759"/><rect x="2377.7" y="1297" width="21.4" height="13.9" fill="#f28e1e"/><rect x="2377.7" y="1285.4" width="21.4" height="11.6" fill="#57a24b"/><rect x="2377.7" y="1316.8" width="21.4" height="3.3" fill="#79706e"/><rect x="2399.2" y="1316.8" width="21.4" height="19.9" fill="#e15759"/><rect x="2399.2" y="1336.7" width="21.4" height="33" fill="#f28e1e"/><rect x="2399.2" y="1369.7" width="21.4" height="21.1" fill="#57a24b"/><rect x="2399.2" y="1390.8" width="21.4" height="47.6" fill="#79706e"/><rect x="2420.6" y="1310.9" width="21.4" height="5.9" fill="#e15759"/><rect x="2420.6" y="1284.9" width="21.4" height="26" fill="#f28e1e"/><rect x="2420.6" y="1267.2" width="21.4" height="17.7" fill="#57a24b"/><rect x="2420.6" y="1253.1" width="21.4" height="14.1" fill="#79706e"/></g>
</svg>
</body></html>
